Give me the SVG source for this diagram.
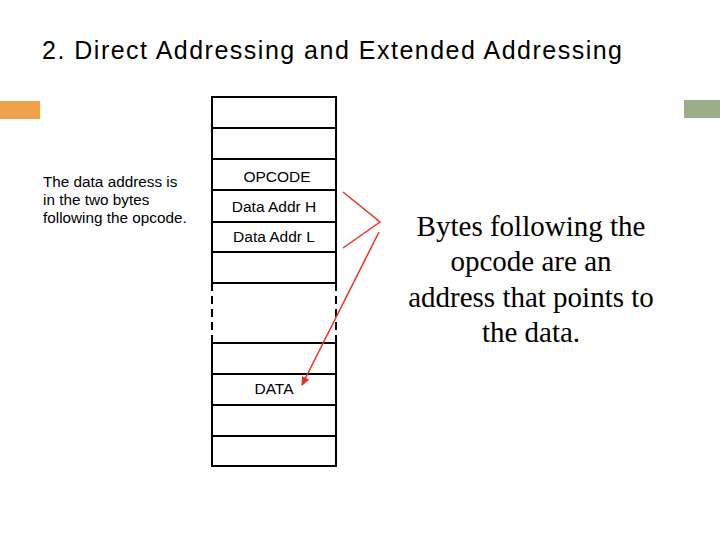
<svg xmlns="http://www.w3.org/2000/svg" width="720" height="540" viewBox="0 0 720 540">
<style>
.t{font-family:"Liberation Sans",Arial,sans-serif;fill:#000}
.c{font-size:15.5px;text-anchor:middle}
.m{stroke:#000;stroke-width:2;fill:none}
.r{stroke:#e8321e;stroke-width:1.5;fill:none}
.s{font-family:"Liberation Serif","Times New Roman",serif;font-size:29px;text-anchor:middle;fill:#000}
</style>
<defs><marker id="a" markerWidth="10" markerHeight="10" refX="8" refY="5" orient="auto" markerUnits="userSpaceOnUse"><path d="M0,1 L9,5 L0,9 Z" fill="#e8321e"/></marker></defs>
<rect width="720" height="540" fill="#fff"/>
<text class="t" x="42" y="59" font-size="25" fill="#333" textLength="580" lengthAdjust="spacing">2. Direct Addressing and Extended Addressing</text>
<rect x="0" y="101" width="40" height="18" fill="#f0a24a"/>
<rect x="684" y="100" width="36" height="18" fill="#9aae8a"/>
<text class="t" font-size="15.3"><tspan x="43" y="187">The data address is</tspan><tspan x="43" y="205">in the two bytes</tspan><tspan x="43" y="223">following the opcode.</tspan></text>
<g id="memory">
<path class="m" d="M212,283 V97 H336 V283 M212,343 V466 H336 V343"/>
<path class="m" d="M212,128 H336 M212,159 H336 M212,190 H336 M212,222 H336 M212,252 H336 M212,283 H336 M212,343 H336 M212,374 H336 M212,405 H336 M212,436 H336"/>
<path class="m" d="M212,283 V343 M336,283 V343" stroke-dasharray="8,5"/>
<text class="t c" x="277" y="182">OPCODE</text>
<text class="t c" x="274" y="212">Data Addr H</text>
<text class="t c" x="274" y="242">Data Addr L</text>
<text class="t c" x="274" y="394">DATA</text>
</g>
<g id="connectors">
<path class="r" d="M343,192 L380,222 L343,248"/>
<path class="r" d="M379,232 L302,385" marker-end="url(#a)"/>
</g>
<g id="note">
<text class="s"><tspan x="531" y="236">Bytes following the</tspan><tspan x="531" y="271">opcode are an</tspan><tspan x="531" y="307">address that points to</tspan><tspan x="531" y="342">the data.</tspan></text>
</g>
</svg>
